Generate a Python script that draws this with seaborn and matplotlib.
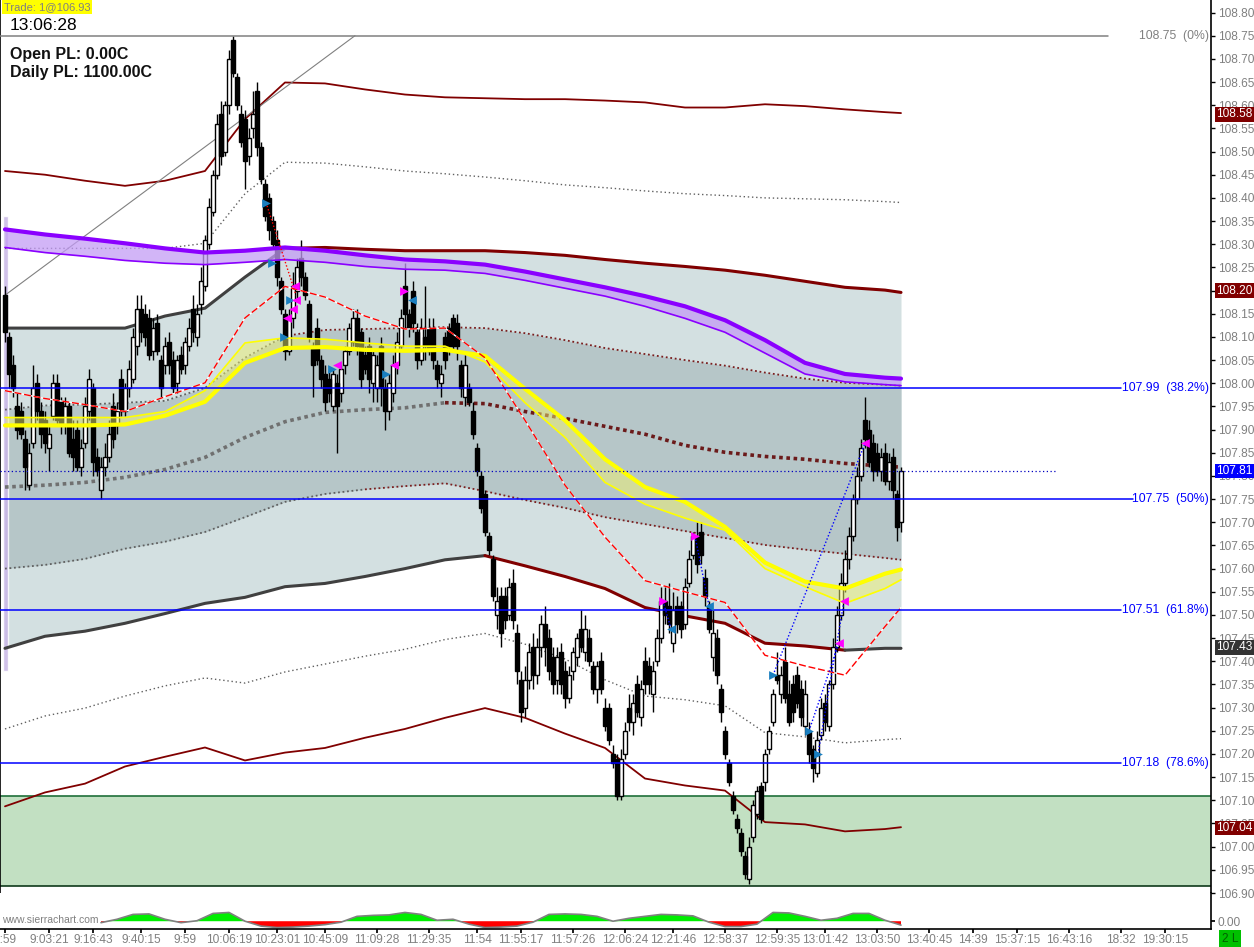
import numpy as np
import pandas as pd
import seaborn as sns
import matplotlib.pyplot as plt

sns.set_theme(style="white")
plt.rcParams["font.family"] = ["Liberation Sans", "DejaVu Sans"]

# ---- candles (one per bar) ----
opens = [
    108.19, 108.10, 108.04, 107.95, 107.94, 107.88, 107.78, 107.87, 108.00, 107.94,
    107.92, 107.86, 107.93, 108.00, 107.96, 107.91, 107.95, 107.88, 107.90, 107.82,
    107.87, 107.94, 107.99, 107.84, 107.77, 107.82, 107.84, 107.95, 107.91, 108.01,
    107.94, 107.99, 108.01, 108.08, 108.16, 108.15, 108.14, 108.07, 108.13, 108.05,
    108.04, 108.09, 108.05, 108.00, 108.06, 108.04, 108.08, 108.16, 108.10, 108.17,
    108.21, 108.30, 108.37, 108.45, 108.58, 108.50, 108.60, 108.74, 108.66, 108.58,
    108.57, 108.49, 108.55, 108.63, 108.51, 108.43, 108.40, 108.35, 108.31, 108.22,
    108.15, 108.07, 108.14, 108.20, 108.27, 108.23, 108.17, 108.08, 108.12, 108.05,
    108.02, 108.01, 107.95, 108.00, 107.98, 108.04, 108.07, 108.09, 108.14, 108.11,
    108.06, 108.08, 108.00, 107.99, 108.08, 107.99, 107.94, 107.98, 108.04, 108.08,
    108.21, 108.15, 108.20, 108.11, 108.05, 108.10, 108.12, 108.12, 108.04, 108.00,
    108.10, 108.12, 108.14, 108.13, 108.04, 107.97, 107.99, 107.94, 107.86, 107.80,
    107.76, 107.67, 107.62, 107.50, 107.54, 107.54, 107.50, 107.57, 107.46, 107.36,
    107.30, 107.36, 107.43, 107.37, 107.43, 107.48, 107.45, 107.41, 107.36, 107.42,
    107.38, 107.32, 107.38, 107.41, 107.47, 107.42, 107.45, 107.39, 107.34, 107.40,
    107.30, 107.30, 107.20, 107.19, 107.11, 107.20, 107.30, 107.27, 107.35, 107.28,
    107.40, 107.39, 107.33, 107.40, 107.45, 107.53, 107.52, 107.44, 107.52, 107.52,
    107.48, 107.57, 107.63, 107.67, 107.68, 107.58, 107.52, 107.41, 107.45, 107.34,
    107.25, 107.18, 107.11, 107.06, 107.03, 106.98, 106.93, 107.02, 107.07, 107.13,
    107.14, 107.21, 107.27, 107.37, 107.33, 107.40, 107.33, 107.35, 107.37, 107.34,
    107.26, 107.25, 107.21, 107.16, 107.24, 107.31, 107.26, 107.35, 107.43, 107.50,
    107.57, 107.62, 107.67, 107.75, 107.80, 107.92, 107.90, 107.87, 107.85, 107.81,
    107.85, 107.79, 107.84, 107.76, 107.70,
]
highs = [
    108.21, 108.11, 108.06, 107.98, 107.96, 107.90, 107.87, 108.04, 108.02, 107.96,
    107.94, 107.91, 108.02, 108.02, 107.97, 107.97, 107.96, 107.92, 107.92, 107.88,
    107.97, 108.03, 108.00, 107.86, 107.84, 107.87, 107.92, 107.98, 107.96, 108.03,
    108.00, 108.05, 108.12, 108.19, 108.19, 108.17, 108.16, 108.14, 108.15, 108.06,
    108.10, 108.11, 108.07, 108.06, 108.08, 108.10, 108.14, 108.19, 108.17, 108.25,
    108.32, 108.40, 108.46, 108.58, 108.61, 108.61, 108.72, 108.75, 108.67, 108.60,
    108.59, 108.55, 108.63, 108.65, 108.52, 108.44, 108.41, 108.36, 108.33, 108.23,
    108.16, 108.16, 108.24, 108.27, 108.31, 108.24, 108.18, 108.09, 108.14, 108.06,
    108.04, 108.03, 108.03, 108.02, 108.04, 108.08, 108.13, 108.16, 108.16, 108.12,
    108.08, 108.10, 108.07, 108.06, 108.10, 108.01, 108.02, 108.06, 108.11, 108.16,
    108.26, 108.16, 108.22, 108.13, 108.14, 108.21, 108.14, 108.14, 108.05, 108.04,
    108.11, 108.13, 108.15, 108.15, 108.05, 108.06, 108.00, 107.96, 107.87, 107.81,
    107.77, 107.68, 107.63, 107.56, 107.56, 107.56, 107.58, 107.60, 107.48, 107.38,
    107.39, 107.44, 107.46, 107.45, 107.50, 107.52, 107.47, 107.43, 107.43, 107.44,
    107.40, 107.39, 107.43, 107.46, 107.51, 107.50, 107.47, 107.40, 107.40, 107.42,
    107.32, 107.31, 107.22, 107.20, 107.21, 107.27, 107.33, 107.33, 107.37, 107.36,
    107.43, 107.41, 107.40, 107.47, 107.56, 107.56, 107.57, 107.55, 107.54, 107.53,
    107.58, 107.64, 107.68, 107.70, 107.70, 107.60, 107.53, 107.51, 107.47, 107.35,
    107.26, 107.19, 107.12, 107.07, 107.04, 106.99, 107.02, 107.10, 107.13, 107.14,
    107.21, 107.26, 107.34, 107.42, 107.39, 107.43, 107.36, 107.37, 107.39, 107.36,
    107.36, 107.27, 107.22, 107.25, 107.32, 107.33, 107.36, 107.45, 107.52, 107.59,
    107.64, 107.69, 107.76, 107.82, 107.88, 107.97, 107.92, 107.89, 107.87, 107.86,
    107.87, 107.85, 107.86, 107.77, 107.82,
]
lows = [
    108.09, 107.99, 107.97, 107.88, 107.88, 107.77, 107.77, 107.86, 107.92, 107.86,
    107.85, 107.81, 107.92, 107.91, 107.89, 107.89, 107.84, 107.81, 107.81, 107.80,
    107.86, 107.92, 107.80, 107.80, 107.75, 107.80, 107.83, 107.86, 107.89, 107.93,
    107.93, 107.97, 108.00, 108.06, 108.09, 108.08, 108.05, 108.05, 108.06, 107.97,
    108.02, 108.02, 107.98, 107.98, 108.02, 108.02, 108.07, 108.09, 108.08, 108.15,
    108.20, 108.29, 108.36, 108.44, 108.47, 108.49, 108.58, 108.66, 108.59, 108.51,
    108.42, 108.47, 108.53, 108.49, 108.43, 108.35, 108.31, 108.29, 108.21, 108.15,
    108.05, 108.06, 108.12, 108.18, 108.21, 108.18, 108.09, 107.97, 108.04, 107.99,
    107.94, 107.96, 107.94, 107.85, 107.96, 108.02, 108.06, 108.08, 108.06, 107.99,
    108.02, 107.98, 107.96, 107.96, 107.95, 107.90, 107.92, 107.96, 108.02, 108.07,
    108.12, 108.10, 108.11, 108.03, 108.04, 108.05, 108.06, 108.03, 107.99, 107.97,
    108.03, 108.06, 108.07, 108.05, 107.97, 107.95, 107.95, 107.88, 107.80, 107.72,
    107.67, 107.63, 107.53, 107.47, 107.43, 107.47, 107.49, 107.47, 107.35, 107.27,
    107.28, 107.34, 107.34, 107.35, 107.41, 107.39, 107.36, 107.33, 107.33, 107.33,
    107.30, 107.31, 107.36, 107.39, 107.42, 107.40, 107.39, 107.33, 107.31, 107.33,
    107.25, 107.22, 107.17, 107.10, 107.10, 107.19, 107.25, 107.24, 107.28, 107.26,
    107.33, 107.33, 107.29, 107.39, 107.44, 107.48, 107.46, 107.42, 107.46, 107.45,
    107.47, 107.56, 107.62, 107.59, 107.61, 107.52, 107.46, 107.38, 107.35, 107.27,
    107.19, 107.13, 107.07, 107.03, 106.98, 106.93, 106.92, 107.01, 107.06, 107.05,
    107.12, 107.20, 107.26, 107.35, 107.31, 107.31, 107.26, 107.27, 107.30, 107.26,
    107.24, 107.18, 107.14, 107.15, 107.23, 107.25, 107.25, 107.34, 107.42, 107.49,
    107.55, 107.60, 107.66, 107.74, 107.79, 107.86, 107.82, 107.79, 107.80, 107.79,
    107.78, 107.77, 107.75, 107.66, 107.68,
]
closes = [
    108.11, 108.02, 107.99, 107.90, 107.89, 107.82, 107.85, 107.99, 107.94, 107.89,
    107.87, 107.89, 108.00, 107.92, 107.91, 107.95, 107.85, 107.84, 107.82, 107.86,
    107.95, 108.01, 107.83, 107.81, 107.82, 107.84, 107.89, 107.88, 107.94, 107.94,
    107.99, 108.03, 108.10, 108.16, 108.11, 108.10, 108.06, 108.12, 108.07, 107.99,
    108.08, 108.04, 107.99, 108.05, 108.03, 108.09, 108.12, 108.11, 108.15, 108.22,
    108.31, 108.38, 108.45, 108.56, 108.49, 108.60, 108.70, 108.67, 108.60, 108.52,
    108.48, 108.53, 108.58, 108.51, 108.44, 108.36, 108.33, 108.30, 108.23, 108.16,
    108.07, 108.14, 108.21, 108.25, 108.23, 108.19, 108.10, 108.04, 108.05, 108.01,
    107.96, 107.98, 108.02, 107.95, 108.03, 108.07, 108.12, 108.14, 108.08, 108.01,
    108.03, 108.01, 108.06, 108.04, 107.99, 107.94, 108.00, 108.04, 108.09, 108.14,
    108.15, 108.12, 108.13, 108.05, 108.12, 108.08, 108.07, 108.05, 108.01, 108.02,
    108.05, 108.08, 108.08, 108.08, 107.99, 108.04, 107.96, 107.89, 107.81, 107.73,
    107.68, 107.64, 107.54, 107.53, 107.46, 107.49, 107.56, 107.49, 107.38, 107.29,
    107.36, 107.42, 107.37, 107.43, 107.48, 107.43, 107.38, 107.35, 107.41, 107.35,
    107.32, 107.37, 107.42, 107.45, 107.43, 107.47, 107.40, 107.34, 107.39, 107.34,
    107.26, 107.23, 107.18, 107.11, 107.19, 107.25, 107.27, 107.31, 107.29, 107.34,
    107.35, 107.35, 107.38, 107.45, 107.53, 107.50, 107.48, 107.51, 107.48, 107.47,
    107.56, 107.62, 107.67, 107.61, 107.63, 107.54, 107.47, 107.46, 107.37, 107.29,
    107.20, 107.14, 107.08, 107.04, 106.99, 106.94, 107.00, 107.09, 107.12, 107.06,
    107.20, 107.25, 107.33, 107.36, 107.37, 107.32, 107.27, 107.29, 107.31, 107.28,
    107.33, 107.20, 107.17, 107.23, 107.30, 107.27, 107.35, 107.43, 107.50, 107.57,
    107.62, 107.67, 107.75, 107.80, 107.86, 107.88, 107.83, 107.81, 107.81, 107.84,
    107.79, 107.83, 107.77, 107.69, 107.81,
]

# ---- study lines, sampled every 10 bars ----
grid_idx = [0, 10, 20, 30, 40, 50, 60, 70, 80, 90, 100, 110,
            120, 130, 140, 150, 160, 170, 180, 190, 200, 210, 220, 224]
band_top = [108.119, 108.119, 108.119, 108.119, 108.145, 108.162, 108.229, 108.291,
            108.293, 108.289, 108.286, 108.286, 108.286, 108.282, 108.276, 108.267,
            108.259, 108.252, 108.244, 108.233, 108.220, 108.207, 108.201, 108.196]
band_bot = [107.428, 107.454, 107.465, 107.482, 107.503, 107.525, 107.538, 107.561,
            107.568, 107.583, 107.600, 107.619, 107.628, 107.606, 107.583, 107.557,
            107.516, 107.498, 107.482, 107.439, 107.433, 107.424, 107.428, 107.428]
up1 = [107.943, 107.952, 107.954, 107.958, 107.962, 107.990, 108.055, 108.102,
       108.115, 108.117, 108.119, 108.121, 108.119, 108.108, 108.093, 108.076,
       108.063, 108.050, 108.038, 108.023, 108.010, 108.001, 107.997, 107.995]
lo1 = [107.600, 107.608, 107.621, 107.643, 107.658, 107.679, 107.711, 107.744,
       107.761, 107.771, 107.778, 107.784, 107.767, 107.748, 107.731, 107.711,
       107.696, 107.681, 107.666, 107.651, 107.641, 107.632, 107.623, 107.619]
vwap = [107.776, 107.780, 107.786, 107.797, 107.814, 107.840, 107.883, 107.917,
        107.937, 107.943, 107.947, 107.958, 107.956, 107.939, 107.924, 107.907,
        107.890, 107.866, 107.851, 107.842, 107.836, 107.827, 107.821, 107.819]
up2 = [108.291, 108.291, 108.291, 108.291, 108.291, 108.302, 108.409, 108.477,
       108.475, 108.467, 108.458, 108.452, 108.445, 108.437, 108.428, 108.422,
       108.415, 108.409, 108.405, 108.400, 108.398, 108.396, 108.392, 108.390]
up3 = [108.458, 108.450, 108.437, 108.426, 108.437, 108.458, 108.570, 108.649,
       108.647, 108.634, 108.623, 108.617, 108.615, 108.613, 108.613, 108.610,
       108.606, 108.595, 108.595, 108.602, 108.598, 108.591, 108.585, 108.583]
lo2 = [107.254, 107.282, 107.299, 107.325, 107.347, 107.364, 107.353, 107.377,
       107.394, 107.411, 107.426, 107.447, 107.460, 107.437, 107.405, 107.360,
       107.325, 107.317, 107.304, 107.246, 107.237, 107.224, 107.231, 107.233]
lo3 = [107.087, 107.117, 107.136, 107.173, 107.194, 107.214, 107.186, 107.203,
       107.213, 107.235, 107.254, 107.278, 107.299, 107.278, 107.244, 107.213,
       107.147, 107.132, 107.121, 107.053, 107.048, 107.033, 107.038, 107.042]
purple_top = [108.332, 108.321, 108.312, 108.302, 108.291, 108.282, 108.286, 108.293,
              108.286, 108.276, 108.267, 108.263, 108.256, 108.241, 108.224, 108.207,
              108.188, 108.166, 108.136, 108.093, 108.044, 108.020, 108.012, 108.010]
purple_bot = [108.293, 108.282, 108.274, 108.265, 108.259, 108.256, 108.261, 108.267,
              108.261, 108.252, 108.246, 108.244, 108.237, 108.222, 108.205, 108.188,
              108.166, 108.140, 108.110, 108.065, 108.020, 108.003, 107.997, 107.995]
yellow_a = [107.909, 107.909, 107.909, 107.911, 107.930, 107.960, 108.044, 108.076,
            108.078, 108.072, 108.070, 108.072, 108.059, 107.988, 107.920, 107.836,
            107.776, 107.744, 107.690, 107.613, 107.572, 107.557, 107.589, 107.598]
yellow_b = [107.926, 107.926, 107.926, 107.926, 107.939, 107.984, 108.087, 108.098,
            108.095, 108.087, 108.080, 108.080, 108.046, 107.958, 107.883, 107.786,
            107.739, 107.709, 107.683, 107.600, 107.561, 107.525, 107.557, 107.576]
red_ma = [107.984, 107.967, 107.954, 107.939, 107.971, 108.001, 108.141, 108.209,
          108.186, 108.145, 108.117, 108.119, 108.055, 107.920, 107.780, 107.668,
          107.574, 107.550, 107.527, 107.413, 107.390, 107.370, 107.475, 107.516]

# ---- fib levels, zone, last price ----
fib_prices = [108.75, 107.99, 107.75, 107.51, 107.18]
fib_texts = ["108.75  (0%)", "107.99  (38.2%)", "107.75  (50%)", "107.51  (61.8%)", "107.18  (78.6%)"]
fib_colors = ["#808080", "#0000ff", "#0000ff", "#0000ff", "#0000ff"]
fib_line_end = [0.915, 0.926, 0.936, 0.926, 0.926]
zone_low, zone_high = 106.915, 107.11
last_price = 107.81
trend_x = [0, 87.5]
trend_y = [108.19, 108.75]
lav_top, lav_bot = 108.36, 107.38

price_tags = ["108.58", "108.20", "107.81", "107.43", "107.04"]
price_tag_colors = ["#800000", "#800000", "#0000ff", "#333333", "#800000"]

# ---- trade markers ----
blue_r_x = [65.25, 66.75, 71.25, 69.75, 81.75, 95.25, 192, 201, 203.25]
blue_r_y = [108.39, 108.26, 108.18, 108.10, 108.03, 108.02, 107.37, 107.25, 107.20]
blue_l_x = [101.75, 166.5, 176]
blue_l_y = [108.18, 107.47, 107.52]
mag_l_x = [72.5, 72.75, 72, 70.5, 83, 97.25, 209.75, 208.5, 215]
mag_l_y = [108.21, 108.18, 108.16, 108.14, 108.04, 108.04, 107.53, 107.44, 107.87]
mag_r_x = [99.75, 164.5, 172.5]
mag_r_y = [108.20, 107.53, 107.67]
tl_x0 = [65.25, 164.5, 172.5, 192, 201, 203.25]
tl_y0 = [108.39, 107.53, 107.67, 107.37, 107.25, 107.20]
tl_x1 = [72.75, 166.5, 176, 215, 208.5, 209.75]
tl_y1 = [108.19, 107.47, 107.52, 107.87, 107.44, 107.53]
tl_col = ["#ff0000", "#0000ff", "#0000ff", "#0000ff", "#0000ff", "#0000ff"]

# ---- oscillator (bottom pane), every 4 bars from bar 24 ----
osc_x = list(range(24, 225, 4))
osc = [-0.15, 0.2, 0.7, 0.75, 0.2, -0.15, 0.05, 0.8, 0.9, 0.0,
       -0.5, -0.65, -0.6, -0.5, -0.35, -0.1, 0.5, 0.6, 0.65, 0.9,
       0.7, 0.1, 0.2, -0.3, -0.65, -0.6, -0.5, -0.1, 0.7, 0.75,
       0.7, 0.5, 0.0, 0.3, 0.5, 0.7, 0.65, 0.55, -0.1, -0.55,
       -0.55, -0.3, 0.9, 0.85, 0.5, 0.1, 0.3, 0.8, 0.8, 0.1, -0.4]

tick_idx = [0, 11, 22, 34, 45, 56, 68, 80, 93, 106, 118, 129, 142, 155, 167,
            180, 193, 205, 218, 231, 242, 253, 266, 279, 290]
tick_labels = ["9:59", "9:03:21", "9:16:43", "9:40:15", "9:59", "10:06:19", "10:23:01",
               "10:45:09", "11:09:28", "11:29:35", "11:54", "11:55:17", "11:57:26",
               "12:06:24", "12:21:46", "12:58:37", "12:59:35", "13:01:42", "13:03:50",
               "13:40:45", "14:39", "15:37:15", "16:43:16", "18:32", "19:30:15"]

W, H = 1254, 947
fig = plt.figure(figsize=(W / 100, H / 100), dpi=100)
fig.patch.set_facecolor("white")
ax = fig.add_axes([0, 1 - 893 / H, 1211 / W, 893 / H])
ax2 = fig.add_axes([0, 1 - 929 / H, 1211 / W, 36 / H])
XMIN, XMAX = -1.25, 301.5

ax.set_facecolor("white")
ax.set_xlim(XMIN, XMAX)
ax.set_ylim(106.911, 108.827)


def line(xs, ys, color, lw, ls="-", z=3):
    sns.lineplot(x=xs, y=ys, ax=ax, color=color, lw=lw, linestyle=ls,
                 sort=False, estimator=None, zorder=z)


# shaded deviation regions
ax.fill_between(grid_idx, band_bot, band_top, color="#d3e0e1", lw=0, zorder=0.8)
ax.fill_between(grid_idx, lo1, up1, color="#b6c6c8", lw=0, zorder=0.9)
ax.axhspan(zone_low, zone_high, color="#c2e0c2", lw=0, zorder=0.7)
ax.axhline(zone_high, color="#1f6f3a", lw=1.2, zorder=1)
ax.axhline(zone_low, color="#0f3a1a", lw=1.2, zorder=1)
ax.bar([0.125], [lav_top - lav_bot], bottom=[lav_bot], width=1.25,
       color="#c8b6e6", alpha=0.85, zorder=2)

g = grid_idx
line(g[:8], band_top[:8], "#404040", 2.2)
line(g[7:], band_top[7:], "#800000", 2.2)
line(g[:13], band_bot[:13], "#404040", 2.2)
line(g[12:22], band_bot[12:22], "#800000", 2.2)
line(g[21:], band_bot[21:], "#404040", 2.2)
line(g[:8], up1[:8], "#606060", 1.3, (0, (1, 1.5)))
line(g[7:], up1[7:], "#7a1e1e", 1.3, (0, (1, 1.5)))
line(g[:10], lo1[:10], "#606060", 1.3, (0, (1, 1.5)))
line(g[9:], lo1[9:], "#7a1e1e", 1.3, (0, (1, 1.5)))
line(g[:12], vwap[:12], "#707070", 2.6, (0, (1, 1)))
line(g[11:], vwap[11:], "#6b1a1a", 2.6, (0, (1, 1)))
line(g, up2, "#606060", 1.0, (0, (1, 2)))
line(g, lo2, "#606060", 1.0, (0, (1, 2)))
line(g, up3, "#800000", 1.3)
line(g, lo3, "#800000", 1.3)
line(trend_x, trend_y, "#808080", 0.8)

# candles
df = pd.DataFrame({"o": opens, "h": highs, "l": lows, "c": closes})
df["i"] = np.arange(len(df))
up = df["c"] >= df["o"]
ax.vlines(df["i"], df["l"], df["h"], color="black", lw=1, zorder=4)
ax.bar(df["i"][up], (df["c"] - df["o"])[up], bottom=df["o"][up], width=0.8,
       color="white", edgecolor="black", lw=1.0, zorder=5)
ax.bar(df["i"][~up], (df["o"] - df["c"])[~up], bottom=df["c"][~up], width=0.8,
       color="black", edgecolor="black", lw=1.0, zorder=5)

# moving-average ribbons
ax.fill_between(g, purple_bot, purple_top, color="#c39cf5", alpha=0.75, lw=0, zorder=6)
line(g, purple_top, "#8a00ff", 3.0, z=6.5)
line(g, purple_bot, "#8a00ff", 1.2, z=6.5)
ax.fill_between(g, yellow_a, yellow_b, color="#eef070", alpha=0.5, lw=0, zorder=6)
line(g, yellow_a, "#ffff00", 3.0, z=6.5)
line(g, yellow_b, "#ffff00", 1.2, z=6.5)
line(g, red_ma, "white", 1.0, z=6.4)
line(g, red_ma, "#ff0000", 1.0, (0, (5, 2)), z=6.5)

# fib lines and last price
for p, t, c, e in zip(fib_prices, fib_texts, fib_colors, fib_line_end):
    ax.axhline(p, xmin=0, xmax=e, color=c, lw=1.1, zorder=7)
    ax.text(0.998, p, t, transform=ax.get_yaxis_transform(), ha="right", va="center",
            color=c, fontsize=8.8, zorder=8)
ax.axhline(last_price, xmin=0, xmax=0.873, color="#0000c0", lw=0.9, ls=(0, (1, 2)), zorder=7)

# trades
for x0, y0, x1, y1, c in zip(tl_x0, tl_y0, tl_x1, tl_y1, tl_col):
    ax.plot([x0, x1], [y0, y1], color=c, lw=1, ls=(0, (1, 1.5)), zorder=7.5)
ax.scatter(blue_r_x, blue_r_y, marker=">", s=40, color="#1a7fc0", lw=0, zorder=8)
ax.scatter(blue_l_x, blue_l_y, marker="<", s=40, color="#1a7fc0", lw=0, zorder=8)
ax.scatter(mag_l_x, mag_l_y, marker="<", s=40, color="#ff00ff", lw=0, zorder=8)
ax.scatter(mag_r_x, mag_r_y, marker=">", s=40, color="#ff00ff", lw=0, zorder=8)

# right price axis
yt = np.round(np.arange(106.90, 108.801, 0.05), 2)
ax.yaxis.tick_right()
ax.set_yticks(yt)
ax.set_yticklabels([f"{v:.2f}" for v in yt])
ax.tick_params(axis="y", right=True, length=3, width=1, color="black", pad=2,
               labelsize=8.6, labelcolor="#808080")
ax.tick_params(axis="x", bottom=False, labelbottom=False)
ax.set_xlabel("")
ax.set_ylabel("")
for s in ["top", "bottom"]:
    ax.spines[s].set_visible(False)
ax.spines["right"].set_color("black")
ax.spines["right"].set_linewidth(1.2)
ax.spines["left"].set_color("black")
ax.spines["left"].set_linewidth(1.2)
ax.grid(False)

for t, c in zip(price_tags, price_tag_colors):
    ax.text(1.0045, float(t), t, transform=ax.get_yaxis_transform(), ha="left",
            va="center", color="white", fontsize=8.6, zorder=9, clip_on=False,
            bbox=dict(boxstyle="square,pad=0.1", fc=c, ec="none"))

# oscillator pane
osc_arr = np.array(osc)
ax2.set_facecolor("white")
ax2.set_xlim(XMIN, XMAX)
ax2.set_ylim(-0.8, 2.9)
ax2.fill_between(osc_x, osc_arr, 0, where=osc_arr >= 0, interpolate=True,
                 color="#00ee00", lw=0)
ax2.fill_between(osc_x, osc_arr, 0, where=osc_arr <= 0, interpolate=True,
                 color="#ff0000", lw=0)
sns.lineplot(x=osc_x, y=osc, ax=ax2, color="#808080", lw=1.2, sort=False, estimator=None)
ax2.set_xticks(tick_idx)
ax2.set_xticklabels(tick_labels)
ax2.yaxis.tick_right()
ax2.set_yticks([0])
ax2.set_yticklabels(["0.00"])
ax2.tick_params(axis="x", bottom=True, length=3, color="black", pad=0.5,
                labelsize=8.6, labelcolor="#808080")
ax2.tick_params(axis="y", right=True, length=3, color="black", pad=2,
                labelsize=8.6, labelcolor="#808080")
ax2.set_xlabel("")
ax2.set_ylabel("")
ax2.spines["top"].set_visible(False)
ax2.spines["left"].set_visible(False)
for s in ["right", "bottom"]:
    ax2.spines[s].set_color("black")
    ax2.spines[s].set_linewidth(1.2)
ax2.grid(False)

# header texts
fig.text(4 / W, 1 - 7 / H, "Trade: 1@106.93", fontsize=8, color="#808080", va="center",
         bbox=dict(boxstyle="square,pad=0.15", fc="#ffff00", ec="none"))
fig.text(10 / W, 1 - 26 / H, "13:06:28", fontsize=12.5, color="black", va="center")
fig.text(10 / W, 1 - 55 / H, "Open PL: 0.00C", fontsize=11.5, weight="bold", color="#111111", va="center")
fig.text(10 / W, 1 - 73 / H, "Daily PL: 1100.00C", fontsize=11.5, weight="bold", color="#111111", va="center")
fig.text(2 / W, 1 - 920 / H, "www.sierrachart.com", fontsize=7.5, color="#808080", va="center")
fig.text(1222 / W, 1 - 939 / H, "2 L", fontsize=8.6, color="#006000", va="center",
         bbox=dict(boxstyle="square,pad=0.25", fc="#00c000", ec="none"))

fig.savefig("out.png", dpi=100)
